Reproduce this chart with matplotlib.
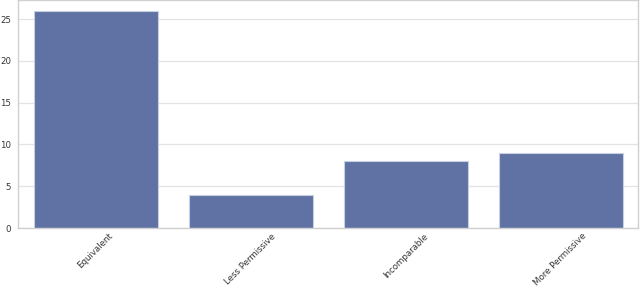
import matplotlib
matplotlib.use("Agg")
import matplotlib.pyplot as plt
import seaborn as sns

categories = ["Equivalent", "Less Permissive", "Incomparable", "More Permissive"]
counts = [26, 4, 8, 9]

sns.set_theme(style="whitegrid")
fig = plt.figure(figsize=(6.4, 2.89), dpi=100)
ax = fig.add_axes([18/640, 1 - 228/289, 620/640, 228/289])
sns.barplot(x=categories, y=counts, ax=ax, color="#5f72a3", saturation=1,
            edgecolor="#c8cfe0", linewidth=0.8)
ax.set_xlabel("")
ax.set_ylabel("")
ax.tick_params(axis="x", labelsize=6.2, length=0, pad=2.5, colors="#333333")
ax.tick_params(axis="y", labelsize=6.2, length=0, pad=5, colors="#333333")
plt.setp(ax.get_xticklabels(), rotation=45, ha="center")
ax.grid(axis="y", color="#e3e3e3", linewidth=0.9)
for s in ax.spines.values():
    s.set_color("#d0d0d0")
    s.set_linewidth(1.0)
fig.savefig("out.png", dpi=100)
